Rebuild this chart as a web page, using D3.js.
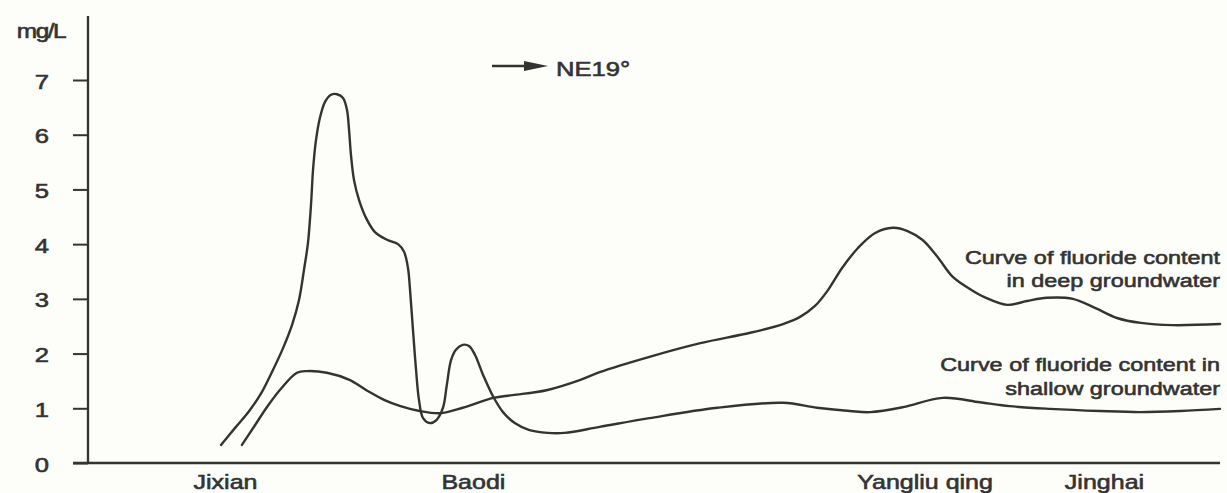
<!DOCTYPE html>
<html>
<head>
<meta charset="utf-8">
<script src="https://cdn.jsdelivr.net/npm/d3@7"></script>
<style>
  html, body { margin: 0; padding: 0; background: #fdfdf9; }
  svg { display: block; }
  text { font-family: "Liberation Sans", Arial, Helvetica, sans-serif; fill: #333333; }
</style>
</head>
<body>
<svg id="chart" width="1227" height="493"></svg>
<script>
// Fluoride content along a NE19° profile (mg/L), distance in relative units 0–100
const yTicks = [0, 1, 2, 3, 4, 5, 6, 7];
const towns = ["Jixian", "Baodi", "Yangliu qing", "Jinghai"];
const townPos = [12.1, 34.0, 73.9, 89.75];

const deepX = [13.6, 14.75, 15.8, 17.1, 18.46, 19.35, 21.1, 23.1, 24.6, 26.2, 27.6, 29.3, 31.1, 33.1, 35.8, 37.5, 40.5, 43.5, 45.2, 49.6, 54.1, 58.5, 61.4, 62.9, 64.22, 65.37, 66.6, 68.02, 69.5, 71.1, 72.4, 73.7, 75.0, 76.4, 77.9, 79.2, 81.2, 82.95, 84.7, 87.0, 89.0, 90.9, 93.0, 95.8, 100];
const deepY = [0.33, 0.69, 1.02, 1.37, 1.65, 1.68, 1.65, 1.52, 1.33, 1.15, 1.04, 0.95, 0.91, 1.01, 1.19, 1.24, 1.33, 1.52, 1.66, 1.94, 2.19, 2.38, 2.54, 2.67, 2.87, 3.16, 3.56, 3.93, 4.20, 4.30, 4.24, 4.08, 3.78, 3.40, 3.18, 3.03, 2.89, 2.96, 3.02, 3.00, 2.83, 2.65, 2.56, 2.52, 2.54];

const shallowX = [11.75, 13.07, 14.31, 15.37, 16.34, 17.23, 18.02, 18.64, 19.08, 19.43, 19.7, 19.88, 20.14, 20.49, 20.94, 21.47, 22.0, 22.53, 22.88, 23.06, 23.23, 23.5, 23.94, 24.56, 25.35, 26.41, 27.39, 27.92, 28.27, 28.45, 28.71, 28.98, 29.24, 29.6, 30.2, 30.8, 31.36, 31.7, 32.07, 32.5, 33.1, 33.66, 34.2, 34.9, 35.8, 36.66, 37.7, 39.0, 40.6, 42.1, 45.2, 49.6, 55.6, 61.4, 64.4, 67.3, 69.1, 72.0, 75.5, 78.8, 81.4, 85.0, 89.4, 92.9, 96.5, 100];
const shallowY = [0.33, 0.66, 0.97, 1.30, 1.70, 2.10, 2.52, 2.98, 3.53, 4.02, 4.72, 5.36, 5.90, 6.31, 6.60, 6.73, 6.74, 6.67, 6.45, 6.09, 5.63, 5.17, 4.81, 4.48, 4.22, 4.08, 4.00, 3.86, 3.56, 3.16, 2.43, 1.70, 1.15, 0.82, 0.73, 0.79, 1.01, 1.43, 1.88, 2.07, 2.16, 2.14, 1.97, 1.61, 1.21, 0.93, 0.73, 0.60, 0.55, 0.55, 0.66, 0.82, 1.01, 1.10, 1.01, 0.95, 0.93, 1.02, 1.19, 1.11, 1.04, 0.99, 0.95, 0.93, 0.95, 0.99];

const deepLabel = ["Curve of fluoride content", "in deep groundwater"];
const shallowLabel = ["Curve of fluoride content in", "shallow groundwater"];

const INK = "#333333";
const SX = 1.22; // horizontal stretch of lettering

const svg = d3.select("#chart");
const x = d3.scaleLinear().domain([0, 100]).range([88, 1220]);
const y = d3.scaleLinear().domain([0, 7]).range([463, 80]);

function label(g, px, py, str, anchor, size) {
  return g.append("text")
    .attr("transform", `translate(${px},${py}) scale(${SX},1)`)
    .attr("text-anchor", anchor)
    .style("font-size", size + "px")
    .style("stroke", INK).style("stroke-width", 0.6)
    .text(str);
}

// y axis
const yAxis = svg.append("g")
  .attr("transform", `translate(${x(0)},0)`)
  .call(d3.axisLeft(y).tickValues(yTicks).tickFormat(d3.format("d")).tickSize(15).tickSizeOuter(0));
yAxis.select(".domain").remove();
yAxis.selectAll(".tick line").attr("stroke", INK).attr("stroke-width", 2);
yAxis.selectAll(".tick text").remove();
yAxis.selectAll(".tick").each(function (d) {
  label(d3.select(this), -46, 8, String(d), "middle", 21);
});
svg.append("line")
  .attr("x1", x(0)).attr("x2", x(0))
  .attr("y1", 16).attr("y2", y(0))
  .attr("stroke", INK).attr("stroke-width", 2.3);
label(svg, 41, 38, "mg/L", "middle", 20).attr("letter-spacing", -1.2);

// x axis
svg.append("line")
  .attr("x1", x(0) - 15).attr("x2", x(100))
  .attr("y1", y(0)).attr("y2", y(0))
  .attr("stroke", INK).attr("stroke-width", 2.3);
const xAxis = svg.append("g")
  .attr("transform", `translate(0,${y(0)})`)
  .call(d3.axisBottom(x).tickValues(townPos).tickSize(0).tickFormat((d, i) => towns[i]));
xAxis.select(".domain").remove();
xAxis.selectAll(".tick text").remove();
xAxis.selectAll(".tick").each(function (d, i) {
  label(d3.select(this), 0, 26, towns[i], "middle", 20.5);
});

// curves
const line = d3.line()
  .x(d => x(d[0]))
  .y(d => y(d[1]))
  .curve(d3.curveCatmullRom.alpha(0.5));

const deep = d3.zip(deepX, deepY);
const shallow = d3.zip(shallowX, shallowY);

[deep, shallow].forEach(s => {
  svg.append("path")
    .datum(s)
    .attr("d", line)
    .attr("fill", "none")
    .attr("stroke", INK)
    .attr("stroke-width", 2.4)
    .attr("stroke-linejoin", "round")
    .attr("stroke-linecap", "round");
});

// curve captions
label(svg, x(100), 264, deepLabel[0], "end", 19.2);
label(svg, x(100), 287, deepLabel[1], "end", 19.2);
label(svg, x(100), 371, shallowLabel[0], "end", 19.2);
label(svg, x(100), 395, shallowLabel[1], "end", 19.2);

// direction arrow
svg.append("line")
  .attr("x1", 492).attr("x2", 530)
  .attr("y1", 66).attr("y2", 66)
  .attr("stroke", INK).attr("stroke-width", 2.3);
svg.append("path")
  .attr("d", "M524,61 L548,66 L524,71 Z")
  .attr("fill", INK);
label(svg, 556, 76, "NE19°", "start", 21);
</script>
</body>
</html>
